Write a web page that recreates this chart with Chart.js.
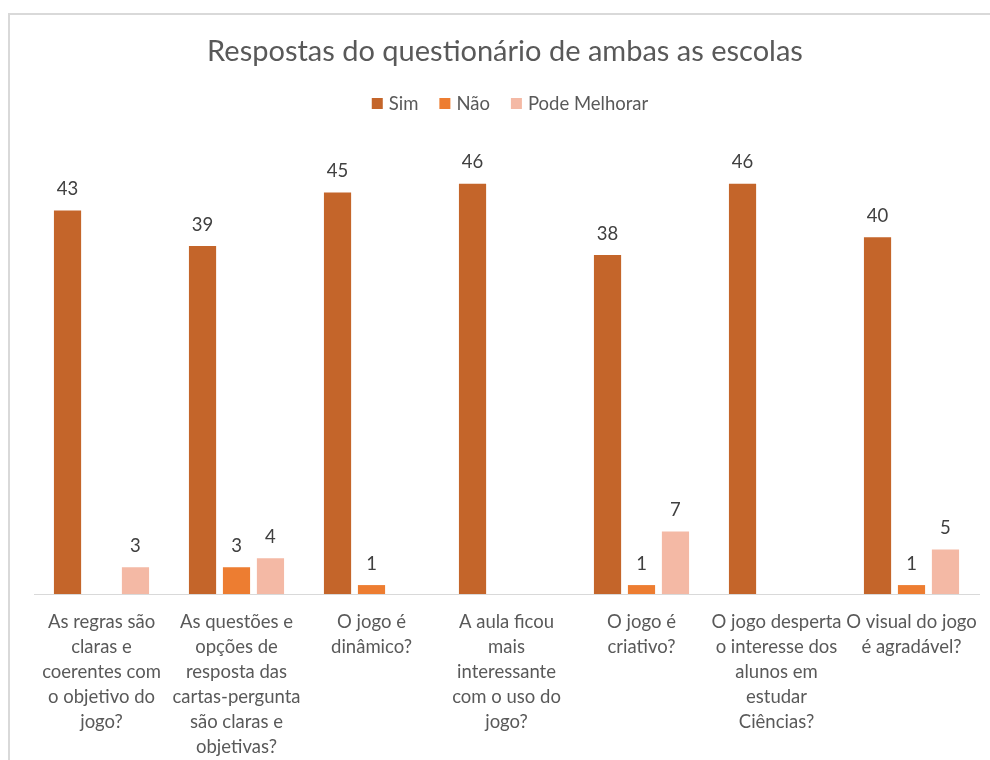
<!DOCTYPE html>
<html>
<head>
<meta charset="utf-8">
<script src="https://cdn.jsdelivr.net/npm/chart.js@4.4.1/dist/chart.umd.min.js"></script>
<style>
html,body{margin:0;padding:0;background:#fff;}
canvas{display:block;}
</style>
</head>
<body>
<canvas id="c" width="990" height="760"></canvas>
<script>
const chartTitle = "Respostas do questionário de ambas as escolas";
const categories = [
  ["As regras são","claras e","coerentes com","o objetivo do","jogo?"],
  ["As questões e","opções de","resposta das","cartas-pergunta","são claras e","objetivas?"],
  ["O jogo é","dinâmico?"],
  ["A aula ficou","mais","interessante","com o uso do","jogo?"],
  ["O jogo é","criativo?"],
  ["O jogo desperta","o interesse dos","alunos em","estudar","Ciências?"],
  ["O visual do jogo","é agradável?"]
];
const seriesNames = ["Sim", "Não", "Pode Melhorar"];
const simValues = [43, 39, 45, 46, 38, 46, 40];
const naoValues = [0, 3, 1, 0, 1, 0, 1];
const podeValues = [3, 4, 0, 0, 7, 0, 5];
const seriesColors = ["#C4652A", "#ED7D31", "#F4B9A5"];

const FONT = "Lato, 'Liberation Sans', sans-serif";

const framePlugin = {
  id: 'frame',
  beforeDraw(chart) {
    const ctx = chart.ctx;
    ctx.save();
    ctx.fillStyle = '#fff';
    ctx.fillRect(0, 0, chart.width, chart.height);
    ctx.strokeStyle = '#D9D9D9';
    ctx.lineWidth = 2;
    ctx.beginPath();
    ctx.moveTo(9, chart.height);
    ctx.lineTo(9, 14);
    ctx.lineTo(chart.width, 14);
    ctx.stroke();
    ctx.restore();
  }
};

const headPlugin = {
  id: 'head',
  afterDraw(chart) {
    const ctx = chart.ctx;
    ctx.save();
    // title
    ctx.fillStyle = '#595959';
    ctx.font = "29px " + FONT;
    ctx.textAlign = 'center';
    ctx.textBaseline = 'middle';
    ctx.fillText(chartTitle, 505, 52);
    // legend
    ctx.font = "18.5px " + FONT;
    ctx.textAlign = 'left';
    const box = 11, gapText = 6, gapItem = 21;
    const ds = chart.data.datasets;
    let total = 0;
    const widths = ds.map(d => ctx.measureText(d.label).width);
    widths.forEach((w, i) => { total += box + gapText + w + (i < ds.length - 1 ? gapItem : 0); });
    let x = 510 - total / 2;
    const y = 103;
    ds.forEach((d, i) => {
      ctx.fillStyle = d.backgroundColor;
      ctx.fillRect(x, y - 5, box, box);
      x += box + gapText;
      ctx.fillStyle = '#595959';
      ctx.fillText(d.label, x, y + 1);
      x += widths[i] + gapItem;
    });
    ctx.restore();
  }
};

const valueLabels = {
  id: 'valueLabels',
  afterDatasetsDraw(chart) {
    const ctx = chart.ctx;
    ctx.save();
    ctx.fillStyle = '#404040';
    ctx.font = "18.5px " + FONT;
    ctx.textAlign = 'center';
    ctx.textBaseline = 'bottom';
    chart.data.datasets.forEach((d, di) => {
      const meta = chart.getDatasetMeta(di);
      meta.data.forEach((bar, i) => {
        const v = d.data[i];
        if (!v) return;
        ctx.fillText(String(v), bar.x, bar.y - 12);
      });
    });
    ctx.restore();
  }
};

new Chart(document.getElementById('c'), {
  type: 'bar',
  data: {
    labels: categories,
    datasets: [
      { label: seriesNames[0], data: simValues, backgroundColor: seriesColors[0] },
      { label: seriesNames[1], data: naoValues, backgroundColor: seriesColors[1] },
      { label: seriesNames[2], data: podeValues, backgroundColor: seriesColors[2] }
    ]
  },
  options: {
    responsive: false,
    animation: false,
    devicePixelRatio: 1,
    layout: { padding: { top: 148, left: 34, right: 11, bottom: 0 } },
    datasets: { bar: { categoryPercentage: 0.755, barPercentage: 0.8, borderWidth: 0 } },
    plugins: {
      legend: { display: false },
      title: { display: false },
      tooltip: { enabled: false }
    },
    scales: {
      x: {
        grid: { display: false, drawTicks: false },
        border: { display: true, color: '#D9D9D9', width: 1 },
        ticks: {
          autoSkip: false, maxRotation: 0, minRotation: 0,
          color: '#595959', padding: 16,
          font: { family: FONT, size: 18.5, lineHeight: 25 / 18.5 }
        },
        afterFit(scale) {
          scale.height = 166;
          scale.paddingLeft = 0;
          scale.paddingRight = 0;
        }
      },
      y: {
        display: false,
        min: 0, max: 50
      }
    }
  },
  plugins: [framePlugin, headPlugin, valueLabels]
});
</script>
</body>
</html>
